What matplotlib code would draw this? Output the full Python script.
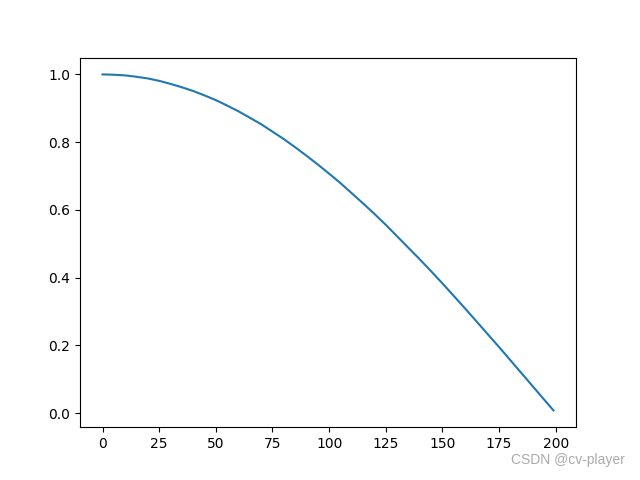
import matplotlib
matplotlib.use("Agg")
import matplotlib.pyplot as plt

x_vals = [0, 5, 10, 15, 20, 25, 30, 35, 40, 45, 50, 55, 60, 65, 70, 75, 80, 85, 90, 95,
          100, 105, 110, 115, 120, 125, 130, 135, 140, 145, 150, 155, 160, 165, 170, 175,
          180, 185, 190, 195, 199]
y_vals = [1.000, 0.999, 0.997, 0.993, 0.988, 0.981, 0.972, 0.962, 0.951, 0.938, 0.924,
          0.908, 0.891, 0.872, 0.853, 0.831, 0.809, 0.785, 0.760, 0.734, 0.707, 0.679,
          0.649, 0.619, 0.588, 0.556, 0.522, 0.488, 0.454, 0.419, 0.383, 0.346, 0.309,
          0.271, 0.233, 0.195, 0.156, 0.117, 0.078, 0.039, 0.008]

fig, ax = plt.subplots(figsize=(6.4, 4.8), dpi=100)
ax.plot(x_vals, y_vals, color="#1f77b4")
fig.text(0.977, 0.027, "CSDN @cv-player", ha="right", va="bottom", color="#aaaaaa",
         fontsize=10, family="Liberation Sans")
fig.savefig("out.png")
